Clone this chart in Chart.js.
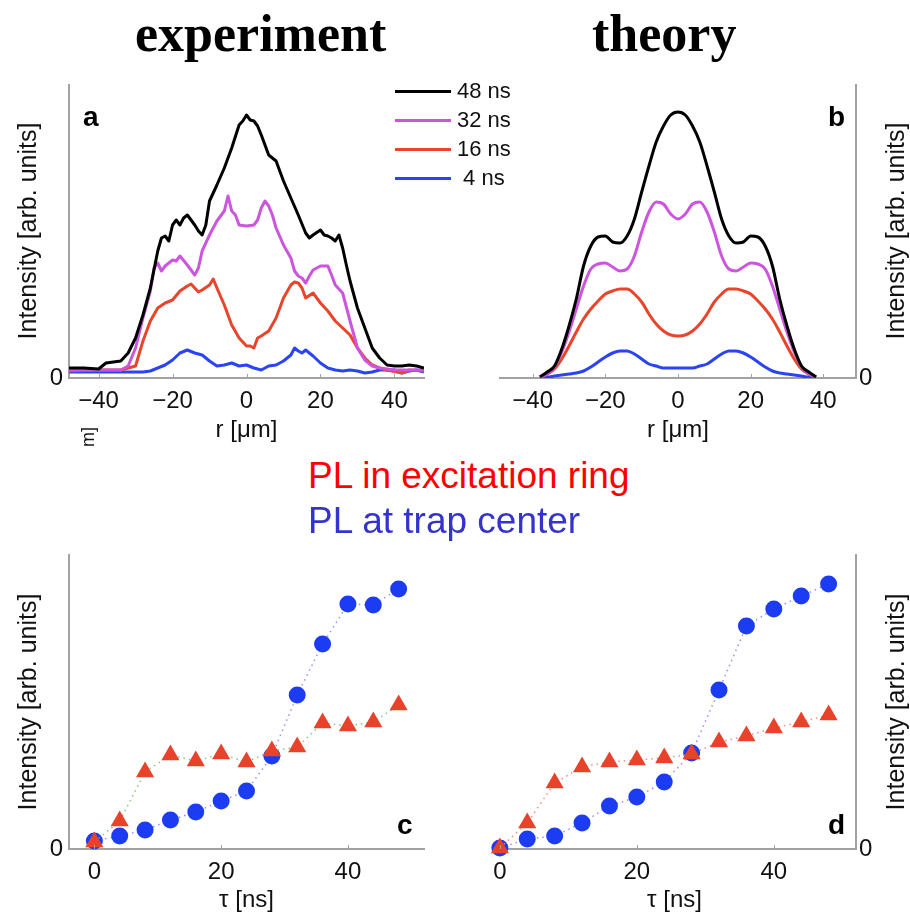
<!DOCTYPE html>
<html>
<head>
<meta charset="utf-8">
<script src="https://cdn.jsdelivr.net/npm/chart.js@4.4.0/dist/chart.umd.min.js"></script>
<style>
body { margin: 0; background: #fff; }
#page { position: relative; width: 910px; height: 915px; overflow: hidden; font-family: "Liberation Sans", Arial, sans-serif; color: #111; }
canvas { position: absolute; }
.txt { position: absolute; white-space: nowrap; line-height: 1; }
.head { font-family: "Liberation Serif", "Times New Roman", serif; font-weight: bold; font-size: 52px; color: #000; }
.ytitle { position: absolute; white-space: nowrap; font-size: 25px; line-height: 1; transform: translate(-50%, -50%) rotate(-90deg); }
.letter { font-weight: bold; font-size: 28px; color: #000; }
.legrow { position: absolute; left: 395px; height: 24px; display: flex; align-items: center; font-size: 22px; }
.legrow span.line { display: inline-block; width: 56px; height: 3px; margin-right: 6px; }
</style>
</head>
<body>
<div id="page">
  <div class="txt head" style="left:135px; top:8px;">experiment</div>
  <div class="txt head" style="left:592px; top:8px;">theory</div>

  <canvas id="chartA" width="440" height="375" style="left:0px; top:75px;"></canvas>
  <canvas id="chartB" width="460" height="375" style="left:450px; top:75px;"></canvas>
  <canvas id="chartC" width="440" height="375" style="left:0px; top:540px;"></canvas>
  <canvas id="chartD" width="460" height="375" style="left:450px; top:540px;"></canvas>

  <div class="ytitle" style="left:27px; top:231px;">Intensity [arb. units]</div>
  <div class="ytitle" style="left:895px; top:231px;">Intensity [arb. units]</div>
  <div class="ytitle" style="left:27px; top:702px;">Intensity [arb. units]</div>
  <div class="ytitle" style="left:895px; top:702px;">Intensity [arb. units]</div>
  <div class="ytitle" style="left:88px; top:437px; font-size:18px;">m]</div>

  <div class="txt letter" style="left:83px; top:103px;">a</div>
  <div class="txt letter" style="left:828px; top:103px;">b</div>
  <div class="txt letter" style="left:397px; top:811px;">c</div>
  <div class="txt letter" style="left:828px; top:811px;">d</div>

  <div class="legrow" style="top:79px;"><span class="line" style="background:#000"></span>48 ns</div>
  <div class="legrow" style="top:108px;"><span class="line" style="background:#cc55dd"></span>32 ns</div>
  <div class="legrow" style="top:137px;"><span class="line" style="background:#e8452c"></span>16 ns</div>
  <div class="legrow" style="top:166px;"><span class="line" style="background:#2a44f5"></span>&nbsp;4 ns</div>

  <div class="txt" style="left:308px; top:457px; font-size:37px; color:#ff0000;">PL in excitation ring</div>
  <div class="txt" style="left:308px; top:502px; font-size:37px; color:#3434cc;">PL at trap center</div>
</div>

<script>
// Panel a: gemessene Profile (r in µm, Intensität in willk. Einheiten)
const rA48 = [-48,-44,-40,-38,-36,-34,-32,-30,-28,-26,-24,-23,-22,-21,-20,-19,-18,-17,-16,-15,-14,-13,-12,-11,-10,-8,-6,-4,-2,-1,0,1,2,3,4,6,7,8,10,12,14,16,17,18,20,21,22,23,24,25,26,27,28,30,32,34,36,38,40,42,44,46,48];
const iA48 = [10,10,9,15,16,17,25,40,63,90,127,140,142,137,153,158,153,160,163,158,153,147,143,153,177,193,210,230,253,257,263,258,257,252,243,223,220,217,197,180,163,145,140,143,148,143,142,140,137,143,130,113,97,70,50,30,20,13,12,12,13,12,10];
const rA32 = [-48,-40,-34,-32,-30,-28,-26,-25,-24,-23,-22,-20,-19,-18,-16,-14,-13,-12,-10,-8,-6,-5,-4,-3,-2,0,2,3,4,5,6,7,8,10,12,13,14,15,16,17,18,20,22,23,24,26,28,30,32,34,36,40,44,48];
const iA32 = [8,8,8,12,30,60,87,110,115,107,112,118,117,122,113,103,110,127,143,157,167,182,167,163,153,152,153,158,170,177,172,163,150,133,120,107,102,100,95,102,108,112,112,103,93,85,57,30,18,12,10,8,8,8];
const rA16 = [-48,-44,-40,-34,-32,-30,-28,-26,-24,-22,-20,-18,-16,-15,-14,-13,-12,-10,-9,-8,-6,-4,-2,0,1,2,3,4,6,8,10,12,13,14,15,16,18,20,22,24,26,28,30,32,34,36,38,42,44,48];
const iA16 = [7,8,8,8,10,12,37,57,70,75,78,87,92,94,90,86,88,93,99,90,73,53,40,32,32,30,40,42,47,60,80,93,96,95,90,80,85,75,67,57,50,43,30,20,13,10,8,5,8,7];
const rA4 = [-48,-40,-30,-28,-26,-24,-22,-20,-18,-16,-14,-12,-10,-8,-6,-4,-2,0,2,4,6,8,10,12,13,14,15,16,18,20,22,24,26,28,30,32,34,36,40,42,44,46,48];
const iA4 = [6,6,6,6,7,10,13,18,25,28,25,23,17,12,13,15,12,13,10,8,12,13,17,23,30,27,25,28,22,15,10,8,7,8,7,5,6,8,8,5,7,8,6];

// Panel b: Theorie-Profile
const rB = [-38,-36,-34,-32,-30,-28,-26,-24,-22,-20,-18,-16,-14,-12,-10,-8,-6,-4,-2,0,2,4,6,8,10,12,14,16,18,20,22,24,26,28,30,32,34,36,38];
const iB48 = [1,6,12,29,52,79,112,132,141,142,136,135,142,159,186,212,236,252,263,266,263,252,236,212,186,159,142,135,136,142,141,132,112,79,52,29,12,6,1];
const iB32 = [1,4,11,26,46,69,92,109,114,115,111,107,109,122,146,166,176,174,164,159,164,174,176,166,146,122,109,107,111,115,114,109,92,69,46,26,11,4,1];
const iB16 = [1,4,9,19,32,46,59,69,77,84,87,89,89,84,76,64,54,47,43,42,43,47,54,64,76,84,89,89,87,84,77,69,59,46,32,19,9,4,1];
const iB4 = [1,1,2,3,4,5,7,11,16,21,25,27,27,24,19,14,12,10,10,10,10,10,12,14,19,24,27,27,25,21,16,11,7,5,4,3,2,1,1];

// Panels c und d: Intensität gegen Verzögerung tau
const tau = [0,4,8,12,16,20,24,28,32,36,40,44,48];
const cRing = [7,28,77,94,88,95,87,98,102,126,123,127,144];
const cCenter = [8,13,19,29,37,48,58,93,154,205,245,244,260];
const dRing = [1,26,66,82,87,89,91,95,107,113,121,127,134];
const dCenter = [1,10,13,26,43,52,67,96,159,223,240,253,265];

// Achsenbeschriftungen
const ticksR = [-40,-20,0,20,40];
const ticksTau = [0,20,40];

const FONT = '"Liberation Sans", Arial, sans-serif';
const AXIS_GREY = '#a2a2a2';
const colors = { k48: '#000000', k32: '#cc55dd', k16: '#e8452c', k4: '#2a44f5', ring: '#e8432a', center: '#1c3cf4' };

function toPoints(xs, ys) {
    return xs.map((x, i) => ({ x: x, y: ys[i] }));
}

function fmtTick(v) {
    return v < 0 ? '\u2212' + Math.abs(v) : String(v);
}

// kleine Teilstriche innen an der x-Achse
const innerTicks = {
    id: 'innerTicks',
    afterDraw(chart) {
        const { ctx, chartArea } = chart;
        const x = chart.scales.x;
        ctx.save();
        ctx.strokeStyle = AXIS_GREY;
        ctx.lineWidth = 1;
        x.ticks.forEach(t => {
            const px = Math.round(x.getPixelForValue(t.value)) + 0.5;
            ctx.beginPath();
            ctx.moveTo(px, chartArea.bottom);
            ctx.lineTo(px, chartArea.bottom - 4);
            ctx.stroke();
        });
        ctx.restore();
    }
};

function profileSet(xs, ys, color, smooth) {
    return {
        data: toPoints(xs, ys),
        showLine: true,
        borderColor: color,
        borderWidth: 3,
        pointRadius: 0,
        borderJoinStyle: 'round',
        cubicInterpolationMode: smooth ? 'monotone' : 'default',
        tension: 0
    };
}

function markerSet(ys, style, color, lineColor, radius) {
    return {
        data: toPoints(tau, ys),
        showLine: true,
        borderColor: lineColor,
        borderWidth: 1.5,
        borderDash: [1.5, 4],
        pointStyle: style,
        pointRadius: radius,
        pointHoverRadius: radius,
        pointBackgroundColor: color,
        pointBorderColor: color,
        pointBorderWidth: 0,
        clip: false
    };
}

function createPanel(canvasId, p) {
    const ctx = document.getElementById(canvasId).getContext('2d');
    return new Chart(ctx, {
        type: 'scatter',
        data: { datasets: p.datasets },
        plugins: [innerTicks],
        options: {
            responsive: false,
            animation: false,
            events: [],
            layout: { padding: p.padding },
            plugins: { legend: { display: false }, tooltip: { enabled: false } },
            scales: {
                x: {
                    type: 'linear',
                    min: p.xMin,
                    max: p.xMax,
                    afterBuildTicks: axis => { axis.ticks = p.xTicks.map(v => ({ value: v })); },
                    afterFit: s => { s.height = p.xHeight; s.paddingLeft = 0; s.paddingRight = 0; },
                    ticks: { font: { family: FONT, size: 24 }, color: '#111', padding: 9, callback: fmtTick, maxRotation: 0 },
                    grid: { display: false, drawTicks: false },
                    border: { display: true, color: AXIS_GREY, width: 2 },
                    title: { display: true, text: p.xTitle, font: { family: FONT, size: 24 }, color: '#111', padding: { top: 0, bottom: p.titlePad } }
                },
                y: {
                    position: p.yPos,
                    min: 0,
                    max: p.yMax,
                    afterBuildTicks: axis => { axis.ticks = [{ value: 0 }]; },
                    afterFit: s => { s.width = p.yWidth; s.paddingTop = 0; s.paddingBottom = 0; },
                    ticks: { font: { family: FONT, size: 24 }, color: '#111', padding: p.yPos === 'left' ? 6 : 3 },
                    grid: { display: false, drawTicks: false },
                    border: { display: true, color: AXIS_GREY, width: 2 }
                }
            }
        }
    });
}

// Panel a
createPanel('chartA', {
    datasets: [
        profileSet(rA4, iA4, colors.k4, false),
        profileSet(rA16, iA16, colors.k16, false),
        profileSet(rA32, iA32, colors.k32, false),
        profileSet(rA48, iA48, colors.k48, false)
    ].reverse(),
    xMin: -48, xMax: 48, xTicks: ticksR, xTitle: 'r [\u03bcm]',
    yPos: 'left', yMax: 293, yWidth: 69, xHeight: 72, titlePad: 5,
    padding: { left: 0, right: 16, top: 10, bottom: 0 }
});

// Panel b
createPanel('chartB', {
    datasets: [
        profileSet(rB, iB4, colors.k4, true),
        profileSet(rB, iB16, colors.k16, true),
        profileSet(rB, iB32, colors.k32, true),
        profileSet(rB, iB48, colors.k48, true)
    ].reverse(),
    xMin: -49, xMax: 49, xTicks: ticksR, xTitle: 'r [\u03bcm]',
    yPos: 'right', yMax: 293, yWidth: 54, xHeight: 72, titlePad: 5,
    padding: { left: 50, right: 0, top: 10, bottom: 0 }
});

// Panel c
createPanel('chartC', {
    datasets: [
        markerSet(cRing, 'triangle', colors.ring, 'rgba(110,200,110,0.9)', 10.5),
        markerSet(cCenter, 'circle', colors.center, 'rgba(120,120,240,0.8)', 8.5)
    ],
    xMin: -4, xMax: 52, xTicks: ticksTau, xTitle: '\u03c4 [ns]',
    yPos: 'left', yMax: 294, yWidth: 69, xHeight: 66, titlePad: 0,
    padding: { left: 0, right: 16, top: 15, bottom: 0 }
});

// Panel d
createPanel('chartD', {
    datasets: [
        markerSet(dRing, 'triangle', colors.ring, 'rgba(240,130,130,0.9)', 10.5),
        markerSet(dCenter, 'circle', colors.center, 'rgba(120,120,240,0.8)', 8.5)
    ],
    xMin: -1, xMax: 52, xTicks: ticksTau, xTitle: '\u03c4 [ns]',
    yPos: 'right', yMax: 294, yWidth: 54, xHeight: 66, titlePad: 0,
    padding: { left: 43, right: 0, top: 15, bottom: 0 }
});
</script>
</body>
</html>
